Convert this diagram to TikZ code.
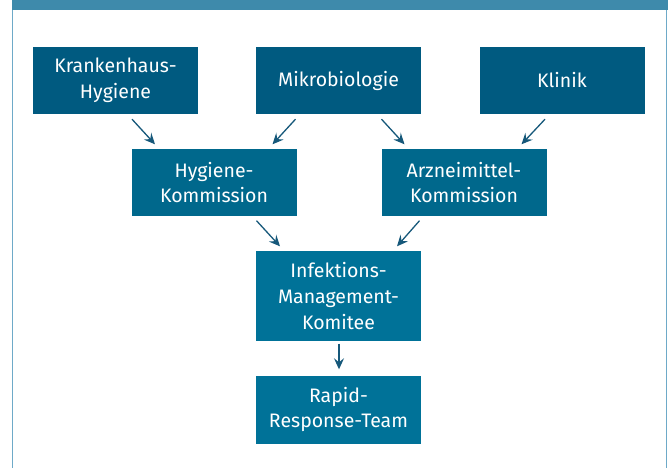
\documentclass[tikz,border=0pt]{standalone}
\usepackage{fontspec}
\setmainfont{Fira Sans}
\usetikzlibrary{arrows.meta}
\definecolor{bandblue}{RGB}{62,138,171}
\definecolor{frameblue}{RGB}{110,170,200}
\definecolor{rowA}{RGB}{0,90,128}
\definecolor{rowB}{RGB}{0,104,140}
\definecolor{rowC}{RGB}{0,114,152}
\definecolor{arrowblue}{RGB}{22,88,122}
\begin{document}
\begin{tikzpicture}[x=1pt,y=-1pt,
    box/.style={text=white,minimum width=165pt,minimum height=67pt,inner sep=0pt,align=center,
                font=\fontsize{19.5}{25.8}\selectfont},
    arr/.style={-{Stealth[length=11pt,width=10pt,inset=4pt]},arrowblue,line width=1.3pt}]
    \useasboundingbox (0,0) rectangle (668,468);
    \fill[bandblue] (12,0) rectangle (668,10);
    \draw[frameblue,line width=1.3pt] (12.6,10) -- (12.6,468);
    \draw[frameblue,line width=1.3pt] (666.2,10) -- (666.2,468);
    % top row
    \node[box,fill=rowA] (kh) at (115.5,80.5) {Krankenhaus-\\Hygiene};
    \node[box,fill=rowA] (mb) at (338.5,80.5) {Mikrobiologie};
    \node[box,fill=rowA] (kl) at (562,80.5) {Klinik};
    % commissions
    \node[box,fill=rowB] (hk) at (214,182.5) {Hygiene-\\Kommission};
    \node[box,fill=rowB] (ak) at (464,182.5) {Arzneimittel-\\Kommission};
    % bottom
    \node[box,fill=rowC,minimum height=90pt] (imk) at (338.5,296) {Infektions-\\Management-\\Komitee};
    \node[box,fill=rowC,minimum height=68pt] (rrt) at (338.5,409.5) {Rapid-\\Response-Team};
    \draw[arr] ([xshift=16.5pt,yshift=-5pt]kh.south) -- ([xshift=-59pt,yshift=4.5pt]hk.north);
    \draw[arr] ([xshift=-43pt,yshift=-5pt]mb.south) -- ([xshift=58.5pt,yshift=4.5pt]hk.north);
    \draw[arr] ([xshift=43pt,yshift=-5pt]mb.south) -- ([xshift=-59.5pt,yshift=4.5pt]ak.north);
    \draw[arr] ([xshift=-17pt,yshift=-5pt]kl.south) -- ([xshift=57.5pt,yshift=4.5pt]ak.north);
    \draw[arr] ([xshift=42.5pt,yshift=-4.5pt]hk.south) -- ([xshift=-58.5pt,yshift=4.5pt]imk.north);
    \draw[arr] ([xshift=-44.5pt,yshift=-4.5pt]ak.south) -- ([xshift=58.5pt,yshift=4.5pt]imk.north);
    \draw[arr] ([xshift=0.5pt,yshift=-2.5pt]imk.south) -- ([xshift=0.5pt,yshift=6pt]rrt.north);
\end{tikzpicture}
\end{document}
